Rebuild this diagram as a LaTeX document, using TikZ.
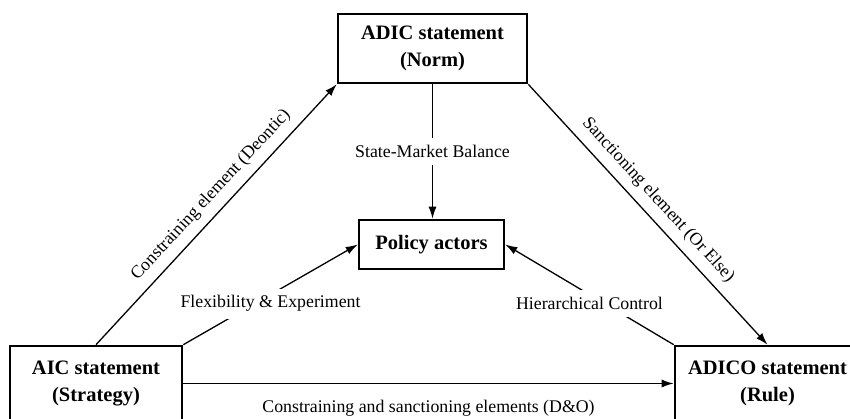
\documentclass[tikz,border=0pt]{standalone}
\usepackage{fontspec}
\setmainfont{Liberation Serif}
\usetikzlibrary{arrows.meta}

\tikzset{
  stmt/.style={draw,line width=2.6pt,align=center,
    font=\fontsize{20.5}{27}\selectfont\bfseries},
  link/.style={->,line width=1.3pt},
  gap/.style={fill=white,inner sep=7pt},
  >={Latex[length=12pt,width=8pt]}
}

\begin{document}
\begin{tikzpicture}[x=1pt,y=-1pt,font=\fontsize{17.8}{21}\selectfont]
\useasboundingbox (0,0) rectangle (850,419);
\clip (0,0) rectangle (850,419);

\node [stmt,minimum width=189pt,minimum height=69pt] (norm)     at (432.5, 48.5) {ADIC statement\\ (Norm)};
\node [stmt,minimum width=145pt,minimum height=49pt] (actors)   at (431.5,244.5) {Policy actors};
\node [stmt,minimum width=172pt,minimum height=75pt] (strategy) at (  96,383.5) {AIC statement\\ (Strategy)};
\node [stmt,minimum width=185pt,minimum height=75pt] (rule)     at (767.5,383.5) {ADICO statement\\ (Rule)};

\draw [link] (strategy.north) --
    node[pos=0.53,sloped,above=5pt] {Constraining element (Deontic)}
    (norm.south west);
\draw [link] (norm.south east) --
    node[pos=0.49,sloped,above=5pt] {Sanctioning element (Or Else)}
    (rule.north);
\draw [link] (norm.south) --
    node[gap] {State-Market Balance}
    (norm.south |- actors.north);
\draw [link] (strategy.north east) --
    node[gap,yshift=-9pt] {Flexibility \& Experiment}
    (actors.west);
\draw [link] (rule.north west) --
    node[gap,yshift=-9pt] {Hierarchical Control}
    (actors.east);
\draw [link] (strategy.east) --
    node[below=13pt] {Constraining and sanctioning elements (D\&O)}
    (rule.west);
\end{tikzpicture}
\end{document}
